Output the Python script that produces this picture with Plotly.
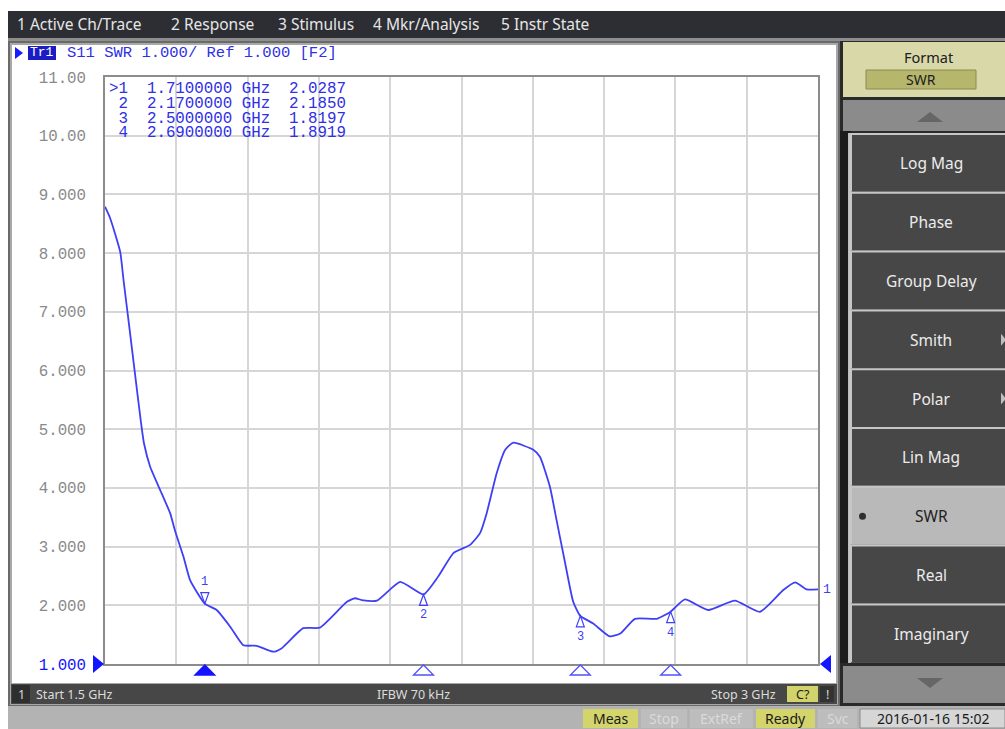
import plotly.graph_objects as go

# ---------------- data ----------------
freq_ghz = [1.500, 1.511, 1.532, 1.539, 1.551, 1.563, 1.575, 1.582, 1.595,
            1.619, 1.637, 1.647, 1.665, 1.679, 1.710, 1.735, 1.763, 1.791, 1.819,
            1.854, 1.872, 1.917, 1.952, 2.009, 2.026, 2.040, 2.072, 2.121, 2.170,
            2.201, 2.233, 2.268, 2.289, 2.303, 2.324, 2.342, 2.359, 2.401, 2.415,
            2.436, 2.450, 2.468, 2.485, 2.500, 2.527, 2.562, 2.584, 2.615, 2.661,
            2.690, 2.720, 2.769, 2.825, 2.878, 2.927, 2.952, 2.976, 3.000]
swr = [8.79, 8.59, 8.02, 7.54, 6.75, 5.95, 5.16, 4.76, 4.36,
       3.91, 3.57, 3.28, 2.83, 2.43, 2.0287, 1.92, 1.64, 1.32, 1.31,
       1.21, 1.27, 1.61, 1.62, 2.06, 2.12, 2.09, 2.08, 2.40, 2.185,
       2.49, 2.89, 3.03, 3.23, 3.57, 4.25, 4.65, 4.77, 4.65, 4.53,
       4.02, 3.45, 2.72, 2.06, 1.8197, 1.69, 1.47, 1.52, 1.77, 1.77,
       1.8919, 2.10, 1.92, 2.08, 1.89, 2.26, 2.39, 2.27, 2.27]

marker_ids = ["1", "2", "3", "4"]
marker_freq = [1.71, 2.17, 2.50, 2.69]
marker_val = [2.0287, 2.1850, 1.8197, 1.8919]
marker_freq_txt = ["1.7100000", "2.1700000", "2.5000000", "2.6900000"]
marker_val_txt = ["2.0287", "2.1850", "1.8197", "1.8919"]
active_marker = "1"

y_tick_vals = [1, 2, 3, 4, 5, 6, 7, 8, 9, 10, 11]
y_tick_text = ["1.000", "2.000", "3.000", "4.000", "5.000", "6.000",
               "7.000", "8.000", "9.000", "10.00", "11.00"]

menu_items = ["1 Active Ch/Trace", "2 Response", "3 Stimulus", "4 Mkr/Analysis", "5 Instr State"]
format_buttons = ["Log Mag", "Phase", "Group Delay", "Smith", "Polar", "Lin Mag", "SWR", "Real", "Imaginary"]
selected_format = "SWR"
start_txt = "Start 1.5 GHz"
ifbw_txt = "IFBW 70 kHz"
stop_txt = "Stop 3 GHz"
status_items = ["Meas", "Stop", "ExtRef", "Ready", "Svc"]
status_active = ["Meas", "Ready"]
date_txt = "2016-01-16 15:02"

# ---------------- geometry helpers (pixels -> paper) ----------------
W, H = 1005, 729
L, R, T, B = 105, 818, 77, 664


def px(x):
    return (x - L) / (R - L)


def py(y):
    return (B - y) / (B - T)


shapes = []
annotations = []

MONO = "Liberation Mono, DejaVu Sans Mono, monospace"
SANS = "Noto Sans, DejaVu Sans, sans-serif"
BLUE = "#2f2fe6"
TRACE = "#3f3ff5"
NB = "\u00a0"


def rect(x0, y0, x1, y1, fill, line=None, lw=0, layer="below"):
    shapes.append(dict(type="rect", xref="paper", yref="paper",
                       x0=px(x0), x1=px(x1), y0=py(y1), y1=py(y0),
                       fillcolor=fill, line=dict(width=lw, color=line or fill),
                       layer=layer))


def poly(pts, fill, line=None, lw=0, layer="below"):
    path = "M " + " L ".join(f"{px(x)},{py(y)}" for x, y in pts) + " Z"
    shapes.append(dict(type="path", xref="paper", yref="paper", path=path,
                       fillcolor=fill, line=dict(width=lw, color=line or fill),
                       layer=layer))


def text(x, y, s, size, color, family=SANS, xanchor="left"):
    annotations.append(dict(xref="paper", yref="paper", x=px(x), y=py(y), text=s,
                            showarrow=False, xanchor=xanchor, yanchor="middle",
                            font=dict(size=size, color=color, family=family),
                            borderpad=0))


# ---------------- window chrome ----------------
# menu bar
rect(8, 11, 1005, 38, "#2c2e33")
rect(8, 38, 1005, 41, "#8e8e8e")
menu_x = [16, 170, 277, 372, 500]
for mx, item in zip(menu_x, menu_items):
    text(mx, 24.5, item, 15.5, "#e6e6e6")

# chart window frame
rect(8, 41, 840, 706, "#6a6a6a")
rect(10, 43, 838, 705, "#a8a8a8")
rect(12, 45, 836, 683, "#ffffff")

# bottom bar of channel window
rect(11, 684, 837, 704, "#474747")
rect(12, 685, 30, 703, "#2e2e2e")
text(21, 694, "1", 12.5, "#d8d8d8", xanchor="center")
text(35, 694, start_txt, 12.5, "#dcdcdc")
text(413, 694, ifbw_txt, 12.5, "#dcdcdc", xanchor="center")
text(777, 694, stop_txt, 12.5, "#dcdcdc", xanchor="right")
rect(787, 686, 818, 702, "#d3d36c")
text(802.5, 694, "C?", 12.5, "#202020", xanchor="center")
rect(820, 686, 834, 702, "#333333")
text(827, 694, "!", 12.5, "#dcdcdc", xanchor="center")

# status bar
rect(8, 706, 1005, 729, "#b3b3b3")
status_x = [(583, 638), (641, 687), (690, 753), (756, 815), (818, 857)]
for (sx0, sx1), item in zip(status_x, status_items):
    act = item in status_active
    rect(sx0, 709, sx1, 728, "#d4d46c" if act else "#bdbdbd")
    text((sx0 + sx1) / 2, 718.5, item, 14, "#1a1a1a" if act else "#dadada", xanchor="center")
rect(860, 709, 1005, 728, "#d6d6d6", line="#8a8a8a", lw=1)
text(933, 718.5, date_txt, 14, "#1a1a1a", xanchor="center")

# right soft-key panel
rect(840, 41, 1005, 706, "#2a2a2a")
rect(843, 42, 1005, 97, "#d8d8a8")
text(928, 57, "Format", 14.5, "#202020", xanchor="center")
rect(866, 70, 976, 89, "#b6b66c", line="#8c8c52", lw=1)
text(921, 79.5, selected_format, 14, "#202020", xanchor="center")
rect(843, 100, 1005, 131, "#8b8b8b")
poly([(917, 122), (943, 122), (930, 112)], "#666666")
rect(840, 131, 851, 663, "#1c1c1c")
rect(848, 133, 851, 663, "#bdbdbd")
sep0, step = 133.0, 58.8
for i, name in enumerate(format_buttons):
    top = sep0 + step * i
    sel = name == selected_format
    rect(849, top, 1005, top + step, "#c6c6c6")
    rect(852, top + 2, 1005, top + step, "#b9b9b9" if sel else "#474747")
    cy = top + step / 2 + 1
    text(931, cy, name, 15.5, "#1e1e1e" if sel else "#ececec", xanchor="center")
    if sel:
        shapes.append(dict(type="circle", xref="paper", yref="paper",
                           x0=px(859), x1=px(866), y0=py(cy + 3.5), y1=py(cy - 3.5),
                           fillcolor="#303030", line=dict(width=0), layer="below"))
    if name in ("Smith", "Polar"):
        poly([(1001, cy - 6), (1006, cy), (1001, cy + 6)], "#bfbfbf")
rect(843, 666, 1005, 703, "#8b8b8b")
poly([(917, 678), (943, 678), (930, 688)], "#666666")

# ---------------- trace header ----------------
poly([(15, 47), (15, 59), (23, 53)], "#1a1aff")
rect(28, 46, 56, 60, "#1c1cc4")
text(42, 53, "Tr1", 13, "#ffffff", family=MONO, xanchor="center")
text(66, 53, "S11 SWR 1.000/ Ref 1.000 [F2]", 15.5, BLUE, family=MONO)

# marker table
for i, (mid, ft, vt) in enumerate(zip(marker_ids, marker_freq_txt, marker_val_txt)):
    yy = 89.3 + 14.6 * i
    lab = (">" if mid == active_marker else NB) + mid
    row = lab + NB * 2 + ft + NB + "GHz" + NB * 2 + vt
    text(108, yy, row, 15.8, BLUE, family=MONO)

# reference level arrows at 1.000
shapes.append(dict(type="path", xref="paper", yref="paper",
                   xsizemode="pixel", xanchor=0, ysizemode="pixel", yanchor=0,
                   path="M -12,9 L -1,0 L -12,-9 Z", fillcolor="#1414ff",
                   line=dict(width=0), layer="above"))
shapes.append(dict(type="path", xref="paper", yref="paper",
                   xsizemode="pixel", xanchor=1, ysizemode="pixel", yanchor=0,
                   path="M 13,9 L 2,0 L 13,-9 Z", fillcolor="#1414ff",
                   line=dict(width=0), layer="above"))

# ---------------- figure ----------------
fig = go.Figure()
fig.add_trace(go.Scatter(x=freq_ghz, y=swr, mode="lines",
                         line=dict(color=TRACE, width=1.8, shape="spline", smoothing=0.5),
                         hoverinfo="skip", showlegend=False))

# markers on trace and stimulus-axis indicators
for mid, mf, mv in zip(marker_ids, marker_freq, marker_val):
    act = mid == active_marker
    if act:
        shapes.append(dict(type="path", xref="x", yref="y", xsizemode="pixel", xanchor=mf,
                           ysizemode="pixel", yanchor=mv,
                           path="M 0,0 L -4,11 L 4,11 Z", fillcolor="rgba(0,0,0,0)",
                           line=dict(width=1.2, color=TRACE), layer="above"))
        annotations.append(dict(xref="x", yref="y", x=mf, y=mv, text=mid, showarrow=False,
                                yshift=22, font=dict(size=12, color=TRACE, family=MONO)))
    else:
        shapes.append(dict(type="path", xref="x", yref="y", xsizemode="pixel", xanchor=mf,
                           ysizemode="pixel", yanchor=mv,
                           path="M 0,0 L -4,-11 L 4,-11 Z", fillcolor="rgba(0,0,0,0)",
                           line=dict(width=1.2, color=TRACE), layer="above"))
        annotations.append(dict(xref="x", yref="y", x=mf, y=mv, text=mid, showarrow=False,
                                yshift=-21, font=dict(size=12, color=TRACE, family=MONO)))
    shapes.append(dict(type="path", xref="x", yref="paper", xsizemode="pixel", xanchor=mf,
                       ysizemode="pixel", yanchor=0,
                       path="M 0,-1 L -10,-11 L 10,-11 Z",
                       fillcolor="#1414ff" if act else "#ffffff",
                       line=dict(width=1.3, color="#1414ff" if act else "#5050ff"),
                       layer="above"))

# trace end label
annotations.append(dict(xref="x", yref="y", x=freq_ghz[-1], y=swr[-1], text="1",
                        showarrow=False, xanchor="left", xshift=3,
                        font=dict(size=13, color=TRACE, family=MONO)))

y_tick_lbl = [f"<span style='color:#1414ff'>{t}</span>" if v == 1 else t
              for v, t in zip(y_tick_vals, y_tick_text)]

fig.update_layout(
    width=W, height=H, autosize=False,
    margin=dict(l=L, r=W - R, t=T, b=H - B, pad=0),
    paper_bgcolor="#ffffff", plot_bgcolor="rgba(0,0,0,0)",
    showlegend=False,
    shapes=shapes, annotations=annotations,
    xaxis=dict(range=[1.5, 3.0], tickvals=[1.5 + 0.15 * i for i in range(11)],
               showticklabels=False, ticks="", showgrid=True, gridcolor="#d6d6d6",
               gridwidth=1.5, zeroline=False, showline=True, linecolor="#8c8c8c",
               linewidth=1.5, mirror=True, fixedrange=True),
    yaxis=dict(range=[1, 11], tickvals=y_tick_vals, ticktext=y_tick_lbl,
               ticks="", ticklabelstandoff=14, showgrid=True, gridcolor="#d6d6d6",
               gridwidth=1.5, zeroline=False, showline=True, linecolor="#8c8c8c",
               linewidth=1.5, mirror=True, fixedrange=True,
               tickfont=dict(family=MONO, size=15.8, color="#8a8a8a")),
)

fig.write_html("out.html", config={"displayModeBar": False},
               post_script="document.body.style.margin='0';document.body.style.padding='0';")
